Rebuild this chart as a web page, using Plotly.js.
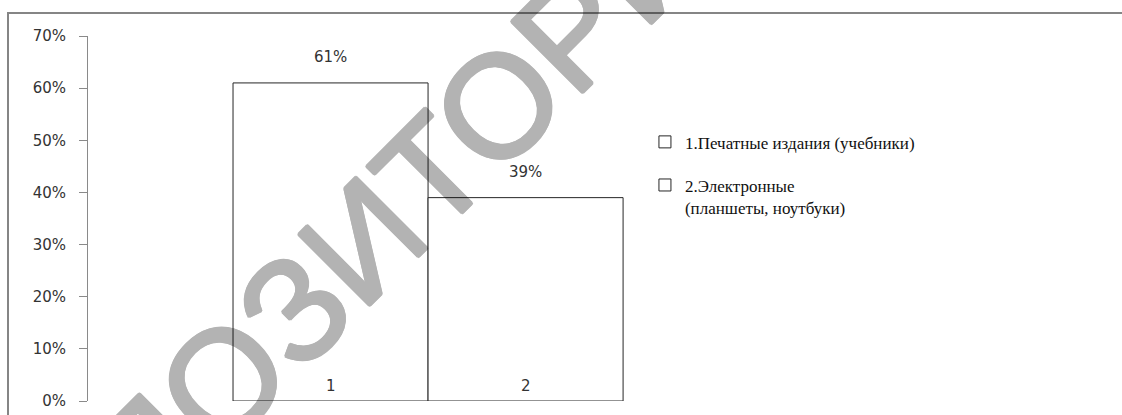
<!DOCTYPE html>
<html>
<head>
<meta charset="utf-8">
<script src="https://cdn.plot.ly/plotly-3.0.1.min.js"></script>
<style>
  html, body { margin: 0; padding: 0; background: #ffffff; overflow: hidden; }
  #frame { position: absolute; left: 7px; top: 12px; width: 1300px; height: 600px;
           border-left: 2px solid #858585; border-top: 2px solid #858585; }
  #chart { position: absolute; left: 0; top: 0; width: 1122px; height: 415px; }
</style>
</head>
<body>
<div id="frame"></div>
<div id="chart"></div>
<script>
// ---- data ----
const categories = ['1', '2'];
const values = [0.61, 0.39];
const seriesNames = ['1.Печатные издания (учебники)', '2.Электронные<br>(планшеты, ноутбуки)'];
const yTickValues = [0, 0.1, 0.2, 0.3, 0.4, 0.5, 0.6, 0.7];
const watermarkText = 'РЕПОЗИТОРИЙ';

const traces = categories.map((c, i) => ({
  type: 'bar',
  x: [c],
  y: [values[i]],
  name: seriesNames[i],
  legendgroup: 'g' + i,
  width: 1,
  marker: { color: '#ffffff', line: { color: '#262626', width: 1 } },
  hoverinfo: 'skip'
}));

const valueLabels = categories.map((c, i) => ({
  x: i, y: values[i], xref: 'x', yref: 'y',
  text: Math.round(values[i] * 100) + '%',
  showarrow: false, yanchor: 'bottom', yshift: 15,
  font: { family: 'DejaVu Sans', size: 15, color: '#333333' }
}));

const categoryLabels = categories.map((c, i) => ({
  x: i, y: 0, xref: 'x', yref: 'y',
  text: c, showarrow: false, yanchor: 'middle', yshift: 15,
  font: { family: 'DejaVu Sans', size: 15, color: '#333333' }
}));

const sh = '#000';
const watermark = {
  xref: 'paper', yref: 'paper',
  x: (363 - 88) / 562, y: (401 - 240) / 365,
  xanchor: 'center', yanchor: 'middle',
  text: watermarkText, textangle: -45, showarrow: false,
  opacity: 0.295,
  font: {
    family: 'Liberation Sans', size: 146, color: '#000000',
    shadow: '1.6px 0 0 ' + sh + ', -1.6px 0 0 ' + sh + ', 0 1.6px 0 ' + sh + ', 0 -1.6px 0 ' + sh +
            ', 1.1px 1.1px 0 ' + sh + ', -1.1px -1.1px 0 ' + sh + ', 1.1px -1.1px 0 ' + sh + ', -1.1px 1.1px 0 ' + sh
  }
};

const layout = {
  width: 1122, height: 415,
  margin: { l: 88, r: 472, t: 36, b: 14 },
  paper_bgcolor: 'rgba(0,0,0,0)',
  plot_bgcolor: 'rgba(0,0,0,0)',
  barmode: 'overlay',
  showlegend: true,
  legend: {
    x: 0.991, xanchor: 'left', y: 0.758, yanchor: 'top',
    valign: 'top',
    font: { family: 'Liberation Serif', size: 17, color: '#111111' },
    tracegroupgap: 18, itemwidth: 30, bgcolor: 'rgba(0,0,0,0)'
  },
  xaxis: {
    type: 'category', range: [-1.2436, 1.638],
    showline: false, showgrid: false, zeroline: false, ticks: '',
    showticklabels: false,
    fixedrange: true
  },
  yaxis: {
    range: [0, 0.7], tickvals: yTickValues, tickformat: '.0%',
    showline: true, linecolor: '#8a8a8a', linewidth: 1,
    ticks: 'outside', ticklen: 8, tickcolor: '#8a8a8a', tickwidth: 1,
    ticklabelstandoff: 10,
    showgrid: false, zeroline: false,
    tickfont: { family: 'DejaVu Sans', size: 15, color: '#333333' },
    fixedrange: true
  },
  annotations: valueLabels.concat(categoryLabels, [watermark])
};

Plotly.newPlot('chart', traces, layout, { displayModeBar: false, staticPlot: true });
</script>
</body>
</html>
